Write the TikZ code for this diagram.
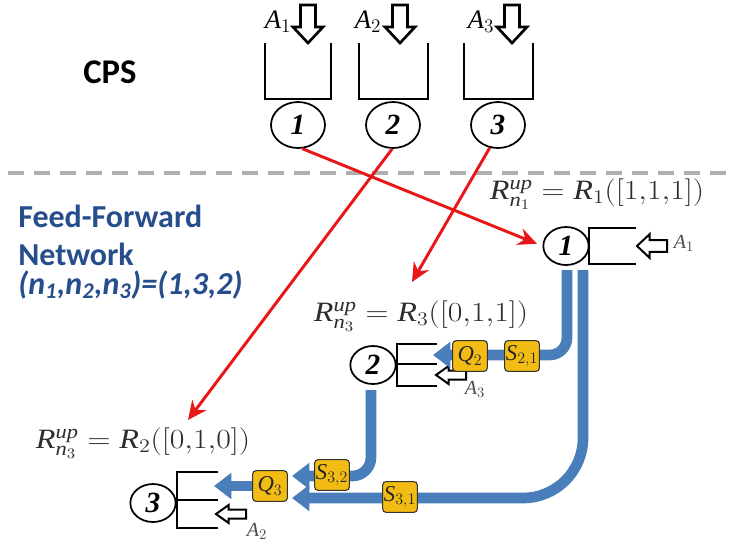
\documentclass[tikz,border=0pt]{standalone}
\usepackage{graphicx}
\usepackage{fontspec}
\setmainfont{Liberation Serif}
\newfontfamily\calibri{Carlito}
\usetikzlibrary{arrows.meta,shapes.geometric}

\definecolor{netblue}{RGB}{38,78,140}
\definecolor{flowblue}{RGB}{74,126,187}
\definecolor{qyellow}{RGB}{242,188,20}
\definecolor{linkred}{RGB}{232,22,22}
\definecolor{divider}{RGB}{175,175,175}
\definecolor{inkgray}{RGB}{45,45,45}

% widened formula text
\newcommand{\wideformula}[1]{\scalebox{1.15}[1]{$#1$}}
\newcommand{\tc}{\mathpunct{\mathrm{,}}\!}
\newcommand{\rup}[1]{\mathit{R}^{\mathit{up}}_{\mathit{n}_{#1}}}

\tikzset{
  station/.style={ellipse, draw, line width=1.3pt, inner sep=0pt,
    font=\fontsize{22}{22}\selectfont\bfseries\itshape},
  topstation/.style={station, minimum width=40.5pt, minimum height=34.5pt},
  netstation/.style={station, minimum width=34pt, minimum height=28.5pt},
  queueline/.style={line width=2.1pt, black},
  flow/.style={line width=8pt, flowblue, -{Triangle[length=13pt,width=19pt]}},
  link/.style={linkred, line width=2.2pt, -{Stealth[length=14pt,width=13pt]}},
  tag/.style={rectangle, rounded corners=2.5pt, draw=black!80, fill=qyellow,
    line width=0.8pt, minimum width=26pt, minimum height=23pt, inner sep=0pt,
    text=black!85, font=\fontsize{17}{17}\selectfont},
  formula/.style={inner sep=0pt, text=inkgray, font=\fontsize{21}{21}\selectfont},
  arrival/.style={inner sep=0pt, text=black, font=\fontsize{20}{20}\selectfont},
  inflow/.style={inner sep=0pt, text=black!70, font=\fontsize{15}{15}\selectfont},
  netlabel/.style={inner sep=0pt, anchor=base west, text=netblue,
    font=\calibri\bfseries\fontsize{24}{24}\selectfont},
  hollow/.pic={\draw[fill=white] (0,-7.5) -- (22,-7.5) -- (22,-15) -- (38,0)
    -- (22,15) -- (22,7.5) -- (0,7.5) -- cycle;}
}

\begin{document}
\begin{tikzpicture}[x=0.75pt,y=-0.75pt]
\useasboundingbox (0,0) rectangle (731,547);

% divider between the CPS and the network
\draw[divider, line width=3.5pt, dash pattern=on 12pt off 7.5pt] (8,173) -- (731,173);

% side titles
\node[inner sep=0pt, anchor=base, font=\calibri\bfseries\fontsize{26}{26}\selectfont] (cps) at (110,83) {CPS};
\node[netlabel] (ff1) at (18,227) {Feed-Forward};
\node[netlabel] (ff2) at (18,265) {Network};
\node[netlabel] (ff3) at (18,294) {\itshape (n\textsubscript{1},n\textsubscript{2},n\textsubscript{3})=(1,3,2)};

% CPS stations with their queues and arrivals
\node[topstation] (c1) at (298,125) {1};
\node[topstation] (c2) at (393,125) {2};
\node[topstation] (c3) at (498,125) {3};
\draw[queueline] (265,43) -- (265,99) -- (331,99) -- (331,43);
\draw[queueline] (359,43) -- (359,99) -- (428,99) -- (428,43);
\draw[queueline] (464,43) -- (464,99) -- (533,99) -- (533,43);
\pic[rotate=-90, line width=2pt] at (308,5) {hollow};
\pic[rotate=-90, line width=2pt] at (400,5) {hollow};
\pic[rotate=-90, line width=2pt] at (512,5) {hollow};
\node[arrival] (a1) at (278,22) {$\mathit{A}_1$};
\node[arrival] (a2) at (368,22) {$\mathit{A}_2$};
\node[arrival] (a3) at (481,22) {$\mathit{A}_3$};

% network stations
\node[netstation] (n1) at (566,246) {1};
\node[netstation] (n2) at (373,365) {2};
\node[netstation] (n3) at (153,503) {3};

% queues of the network stations
\draw[queueline] (636,228) -- (589,228) -- (589,264) -- (636,264);
\draw[queueline] (437,344) -- (397,344) -- (397,386) -- (437,386);
\draw[queueline] (397,364) -- (437,364);
\draw[queueline] (218,472) -- (177,472) -- (177,528) -- (218,528);
\draw[queueline] (177,500) -- (218,500);

% exogenous arrivals at the network stations
\pic[rotate=180, scale=0.79, line width=1.5pt] at (667,246) {hollow};
\pic[rotate=180, xscale=0.79, yscale=0.6, line width=1.5pt] at (466,375) {hollow};
\pic[rotate=180, xscale=0.79, yscale=0.6, line width=1.5pt] at (246,514) {hollow};
\node[inflow] (b1) at (684,243) {$\mathit{A}_1$};
\node[inflow] (b3) at (475,389) {$\mathit{A}_3$};
\node[inflow] (b2) at (257,531) {$\mathit{A}_2$};

% service rates
\node[formula] (l1) at (597,194) {\wideformula{\rup{1} = \mathit{R}_1([1\tc1\tc1])}};
\node[formula] (l2) at (421,316) {\wideformula{\rup{3} = \mathit{R}_3([0\tc1\tc1])}};
\node[formula] (l3) at (143,443) {\wideformula{\rup{3} = \mathit{R}_2([0\tc1\tc0])}};

% feed-forward flows
\coordinate (f1a) at (567,270);
\coordinate (f1b) at (583,270);
\coordinate (f2) at (371,390);
\coordinate (t2) at (433,355);
\coordinate (t31) at (292,498);
\coordinate (t32) at (292,476);
\coordinate (t3) at (214,486);
\draw[flow, rounded corners=13pt] (f1a) |- (t2);
\draw[flow, rounded corners=45pt] (f1b) |- (t31);
\draw[flow, rounded corners=14pt] (f2) |- (t32);

\node[tag] (q2) at (470,356) {$\mathit{Q}_2$};
\node[tag] (s21) at (522,356) {$\mathit{S}_{2,1}$};
\node[tag] (q3) at (270,486) {$\mathit{Q}_3$};
\node[tag] (s32) at (332,475) {$\mathit{S}_{3,2}$};
\node[tag] (s31) at (400,497) {$\mathit{S}_{3,1}$};
\draw[flow] (q3.west) -- (t3);

% assignment of CPS stations to network positions
\coordinate (r2in) at (188,420);
\coordinate (r3in) at (412,282);
\draw[link, shorten >=4.5pt] (c1.-80) -- (n1.west);
\draw[link] (c2.-92) -- (r2in);
\draw[link] (c3.-110) -- (r3in);
\end{tikzpicture}
\end{document}
